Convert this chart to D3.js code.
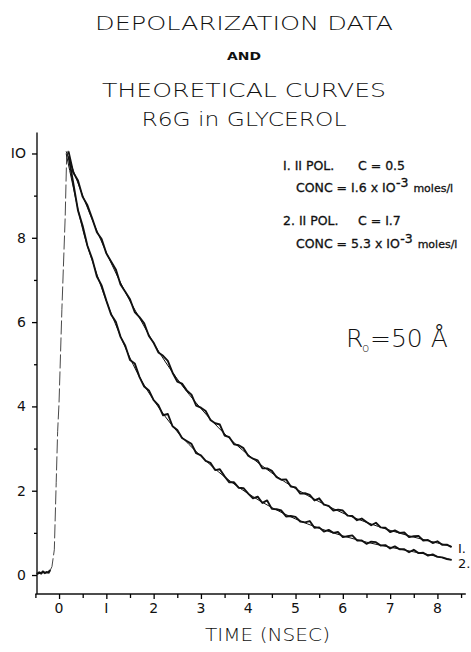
<!DOCTYPE html>
<html>
<head>
<meta charset="utf-8">
<script src="https://cdn.jsdelivr.net/npm/d3@7"></script>
<style>
  body { margin: 0; background: #fff; }
  svg { display: block; }
  text { font-family: "DejaVu Sans", "Liberation Sans", sans-serif; fill: #111; }
</style>
</head>
<body>
<div id="chart"></div>
<script>
// Title lines
const titleLines = ["DEPOLARIZATION   DATA", "AND", "THEORETICAL   CURVES", "R6G in GLYCEROL"];

// Axis ticks
const xTicks = [0, 1, 2, 3, 4, 5, 6, 7, 8];
const xTickLabels = ["0", "I", "2", "3", "4", "5", "6", "7", "8"];
const yTicks = [0, 2, 4, 6, 8, 10];
const yTickLabels = ["0", "2", "4", "6", "8", "IO"];

// Rising edge (thin dashed) and pre-pulse baseline
const riseT = [-0.2, -0.15, -0.1, -0.06, -0.03, 0.0, 0.06, 0.13, 0.16, 0.2];
const riseV = [0.08, 0.2, 0.6, 2.2, 3.4, 4.1, 6.3, 8.5, 9.9, 10.1];
const baseT = [-0.47, -0.42, -0.38, -0.34, -0.3, -0.26, -0.22, -0.19];
const baseV = [0.02, 0.06, 0.04, 0.08, 0.05, 0.07, 0.06, 0.12];

// Theoretical curves
const theoryT = [0.15, 0.3, 0.5, 0.75, 1.0, 1.25, 1.5, 1.75, 2.0, 2.5, 3.0, 3.5, 4.0, 4.5, 5.0, 5.5, 6.0, 6.5, 7.0, 7.5, 8.0, 8.3];
const theory1 = [10.05, 9.6, 9.0, 8.3, 7.65, 7.05, 6.5, 6.0, 5.5, 4.65, 3.95, 3.35, 2.85, 2.42, 2.05, 1.74, 1.47, 1.25, 1.06, 0.9, 0.76, 0.68];
const theory2 = [10.0, 9.2, 8.2, 7.3, 6.5, 5.8, 5.15, 4.6, 4.15, 3.4, 2.82, 2.33, 1.93, 1.6, 1.33, 1.11, 0.93, 0.78, 0.66, 0.55, 0.44, 0.36];

// Measured data, every 0.1 ns from 0.2 to 8.3
const dataT = d3.range(82).map(i => +(0.2 + i * 0.1).toFixed(1));
const data1 = [10.05, 9.55, 9.36, 8.97, 8.77, 8.46, 8.13, 7.97, 7.63, 7.44,
    7.25, 6.89, 6.72, 6.54, 6.24, 6.12, 5.97, 5.67, 5.51, 5.28,
    5.2, 5.08, 4.8, 4.59, 4.54, 4.38, 4.28, 4.02, 3.97, 3.89,
    3.68, 3.6, 3.57, 3.31, 3.27, 3.1, 3.08, 3.01, 2.83, 2.76,
    2.72, 2.53, 2.53, 2.47, 2.32, 2.26, 2.27, 2.1, 2.08, 1.93,
    1.94, 1.9, 1.77, 1.82, 1.67, 1.64, 1.53, 1.55, 1.53, 1.41,
    1.4, 1.3, 1.34, 1.26, 1.18, 1.24, 1.13, 1.12, 1.02, 1.06,
    1.0, 1.01, 0.9, 0.92, 0.93, 0.82, 0.83, 0.76, 0.8, 0.72, 0.72, 0.66];
const data2 = [9.93, 9.3, 8.65, 8.28, 7.81, 7.5, 7.08, 6.87, 6.51, 6.18,
    6.01, 5.65, 5.44, 5.1, 5.02, 4.7, 4.47, 4.38, 4.15, 4.03,
    3.79, 3.82, 3.53, 3.44, 3.25, 3.18, 3.11, 2.89, 2.84, 2.71,
    2.66, 2.49, 2.51, 2.34, 2.2, 2.2, 2.07, 2.06, 1.93, 1.82,
    1.86, 1.71, 1.77, 1.57, 1.56, 1.53, 1.39, 1.4, 1.38, 1.27,
    1.25, 1.28, 1.12, 1.13, 1.03, 1.07, 1.0, 1.02, 0.9, 0.92,
    0.94, 0.82, 0.82, 0.74, 0.79, 0.78, 0.7, 0.71, 0.63, 0.68,
    0.61, 0.61, 0.54, 0.6, 0.52, 0.53, 0.46, 0.49, 0.43, 0.42, 0.38, 0.36];

const width = 471, height = 652;

const svg = d3.select("#chart").append("svg")
    .attr("width", width)
    .attr("height", height);

const x = d3.scaleLinear().domain([-0.5, 8.6]).range([35.4, 465.8]);
const y = d3.scaleLinear().domain([-0.45, 10.5]).range([594, 132.4]);

// Titles
const titleY = [30, 60, 97, 126];
const titleLen = [298, 34, 284, 205];
const titleSize = [20, 11, 20, 20];
svg.selectAll(".title")
    .data(titleLines)
    .enter().append("text")
    .attr("class", "title")
    .attr("x", (d, i) => 244 - titleLen[i] / 2)
    .attr("y", (d, i) => titleY[i])
    .attr("textLength", (d, i) => titleLen[i])
    .attr("lengthAdjust", "spacingAndGlyphs")
    .style("font-size", (d, i) => titleSize[i] + "px")
    .style("font-weight", (d, i) => i === 1 ? "bold" : "300")
    .text(d => d);

// Axes
const axisG = svg.append("g").attr("stroke", "#111").attr("stroke-width", 1.4);
axisG.append("line").attr("x1", x(-0.5)).attr("x2", x(8.6)).attr("y1", y(-0.45)).attr("y2", y(-0.45));
axisG.append("line").attr("x1", x(-0.5) + 1.6).attr("x2", x(-0.5) + 1.6).attr("y1", y(-0.45)).attr("y2", y(10.5));

const xAxis = svg.append("g")
    .attr("transform", `translate(0,${y(-0.45)})`)
    .call(d3.axisBottom(x).tickValues(d3.range(-0.5, 8.6, 0.5)).tickSize(5).tickFormat(""));
xAxis.select(".domain").remove();
xAxis.selectAll(".tick line")
    .attr("stroke-width", 1.3)
    .attr("y2", d => Number.isInteger(d) ? 5 : 4);

svg.selectAll(".xlab")
    .data(xTicks)
    .enter().append("text")
    .attr("x", d => x(d))
    .attr("y", 613)
    .attr("text-anchor", "middle")
    .style("font-size", "14px")
    .text((d, i) => xTickLabels[i]);

const yAxis = svg.append("g")
    .attr("transform", `translate(${x(-0.5) + 1.6},0)`)
    .call(d3.axisLeft(y).tickValues(d3.range(0, 11, 1)).tickSize(4).tickFormat(""));
yAxis.select(".domain").remove();
yAxis.selectAll(".tick line").attr("stroke-width", 1.3).attr("x2", d => d % 2 === 0 ? -5 : -3);

svg.selectAll(".ylab")
    .data(yTicks)
    .enter().append("text")
    .attr("x", 26)
    .attr("y", d => y(d) + 5)
    .attr("text-anchor", "end")
    .style("font-size", "14px")
    .text((d, i) => yTickLabels[i]);

svg.append("text")
    .attr("x", 205).attr("y", 641)
    .attr("textLength", 125).attr("lengthAdjust", "spacingAndGlyphs")
    .style("font-size", "17px").style("font-weight", "300")
    .text("TIME (NSEC)");

// Curves
const line = d3.line().x(d => x(d[0])).y(d => y(d[1]));
const smooth = d3.line().x(d => x(d[0])).y(d => y(d[1])).curve(d3.curveMonotoneX);

svg.append("path")
    .datum(riseT.map((t, i) => [t, riseV[i]]))
    .attr("d", line)
    .attr("fill", "none").attr("stroke", "#333").attr("stroke-width", 0.9)
    .attr("stroke-dasharray", "14,3");

svg.append("path")
    .datum(baseT.map((t, i) => [t, baseV[i]]))
    .attr("d", line)
    .attr("fill", "none").attr("stroke", "#111").attr("stroke-width", 2.2);

[data1, data2].forEach(ds => {
    svg.append("path")
        .datum(dataT.map((t, i) => [t, ds[i]]))
        .attr("d", line)
        .attr("fill", "none").attr("stroke", "#111").attr("stroke-width", 1.9)
        .attr("stroke-linejoin", "round");
});
[theory1, theory2].forEach(ts => {
    svg.append("path")
        .datum(theoryT.map((t, i) => [t, ts[i]]))
        .attr("d", smooth)
        .attr("fill", "none").attr("stroke", "#111").attr("stroke-width", 1);
});

// Curve labels
svg.append("text").attr("x", 458).attr("y", 553).style("font-size", "13px").text("I.");
svg.append("text").attr("x", 458).attr("y", 568).style("font-size", "13px").text("2.");

// Legend
const legend = svg.append("g").style("font-size", "12.5px")
    .style("stroke", "#111").style("stroke-width", 0.3);
legend.append("text").attr("x", 283).attr("y", 170).text("I.  II POL.");
legend.append("text").attr("x", 358).attr("y", 170).text("C = 0.5");
const c1 = legend.append("text").attr("x", 296).attr("y", 192);
c1.append("tspan").text("CONC = I.6 x IO");
c1.append("tspan").attr("dy", -5).text("-3");
c1.append("tspan").attr("dy", 5).attr("dx", 5).style("font-size", "11px").text("moles/l");

legend.append("text").attr("x", 283).attr("y", 225).text("2.  II POL.");
legend.append("text").attr("x", 358).attr("y", 225).text("C = I.7");
const c2 = legend.append("text").attr("x", 296).attr("y", 248);
c2.append("tspan").text("CONC = 5.3 x IO");
c2.append("tspan").attr("dy", -5).text("-3");
c2.append("tspan").attr("dy", 5).attr("dx", 5).style("font-size", "11px").text("moles/l");

// R0 annotation
svg.append("text").attr("x", 346).attr("y", 347)
    .style("font-size", "25px").style("font-weight", "300").text("R");
svg.append("text").attr("x", 362).attr("y", 352)
    .style("font-size", "12px").style("font-weight", "300").text("o");
svg.append("text").attr("x", 370).attr("y", 347)
    .style("font-size", "25px").style("font-weight", "300").text("=50 Å");
</script>
</body>
</html>
